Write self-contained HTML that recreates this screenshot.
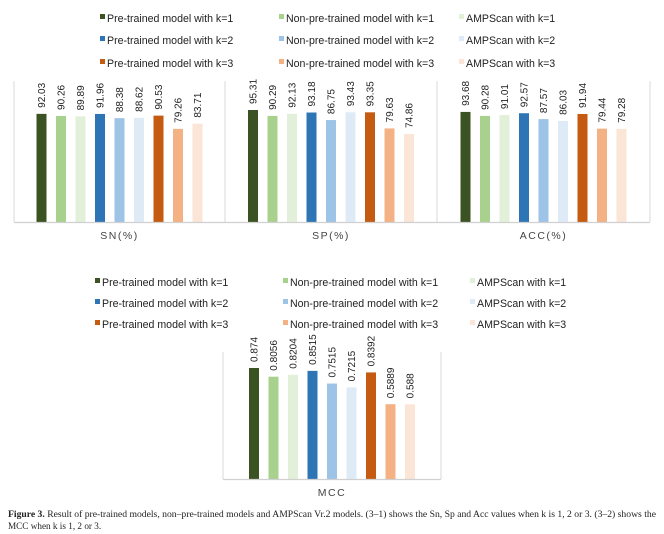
<!DOCTYPE html>
<html><head><meta charset="utf-8"><style>
html,body{margin:0;padding:0;background:#fff;}
svg{display:block;font-family:"Liberation Sans",sans-serif;}
</style></head><body>
<svg id="fig" width="664" height="534" viewBox="0 0 664 534" xmlns="http://www.w3.org/2000/svg">
<g id="legend1"></g>
<g id="chart1"></g>
<g id="legend2"></g>
<g id="chart2"></g>
<text x="8" y="517" font-family="Liberation Serif, serif" font-size="9.2" fill="#222" textLength="648" lengthAdjust="spacingAndGlyphs"><tspan font-weight="bold">Figure 3.</tspan> Result of pre-trained models, non–pre-trained models and AMPScan Vr.2 models. (3–1) shows the Sn, Sp and Acc values when k is 1, 2 or 3. (3–2) shows the</text>
<text x="8" y="529" font-family="Liberation Serif, serif" font-size="9.2" fill="#222">MCC when k is 1, 2 or 3.</text>
</svg>
<script>
const seriesNames = ["Pre-trained model with k=1","Non-pre-trained model with k=1","AMPScan with k=1","Pre-trained model with k=2","Non-pre-trained model with k=2","AMPScan with k=2","Pre-trained model with k=3","Non-pre-trained model with k=3","AMPScan with k=3"];
const colors = ["#3b5323","#a9d18e","#e2efd9","#2e75b6","#9dc3e6","#deebf7","#c55a11","#f4b183","#fbe5d6"];
const metrics = ["SN(%)","SP(%)","ACC(%)"];
const snValues = [92.03,90.26,89.89,91.96,88.38,88.62,90.53,79.26,83.71];
const spValues = [95.31,90.29,92.13,93.18,86.75,93.43,93.35,79.63,74.86];
const accValues = [93.68,90.28,91.01,92.57,87.57,86.03,91.94,79.44,79.28];
const snLabels = ["92.03","90.26","89.89","91.96","88.38","88.62","90.53","79.26","83.71"];
const spLabels = ["95.31","90.29","92.13","93.18","86.75","93.43","93.35","79.63","74.86"];
const accLabels = ["93.68","90.28","91.01","92.57","87.57","86.03","91.94","79.44","79.28"];
const mccValues = [0.874,0.8056,0.8204,0.8515,0.7515,0.7215,0.8392,0.5889,0.588];
const mccLabels = ["0.874","0.8056","0.8204","0.8515","0.7515","0.7215","0.8392","0.5889","0.588"];

const NS="http://www.w3.org/2000/svg";
function mk(tag, attrs, parent){const e=document.createElementNS(NS,tag);for(const k in attrs)e.setAttribute(k,attrs[k]);parent.appendChild(e);return e;}

function legend(g, cols, rows){
  seriesNames.forEach((n,i)=>{
    const c=i%3, r=Math.floor(i/3);
    const item=mk('g',{},g);
    
    
    mk('rect',{x:cols[c],y:rows[r]-4,width:5,height:5,fill:colors[i]},item);
    const t=mk('text',{x:cols[c]+7,y:rows[r]+4,'font-size':'10.6',fill:'#222'},item);
    t.textContent=n;
  });
}

function panel(g, x0, x1, base, top, vmax, values, labels, title, leftLine, rightLine){
  const h=base-top;
  const yScale=v=>base - v/vmax*h;
  const step=19.5, bw=10;
  const cx=(x0+x1)/2, start=cx - (step*8+bw)/2;
  const xScale=i=>start+i*step;
  values.forEach((v,i)=>{
    const b=mk('rect',{x:xScale(i),y:yScale(v),width:bw,height:base-yScale(v),fill:colors[i]},g);
    
    
    const tx=xScale(i)+bw/2+3.5, ty=yScale(v)-6;
    const t=mk('text',{x:tx,y:ty,'font-size':'10',fill:'#222',transform:`rotate(-90 ${tx} ${ty})`},g);
    
    
    t.textContent=labels[i];
  });
  const t=mk('text',{x:cx,y:base+17,'font-size':'10.5','text-anchor':'middle',fill:'#444','letter-spacing':'1.5'},g);
  
  
  t.textContent=title;
  if(leftLine) mk('line',{x1:x0,y1:top,x2:x0,y2:base,stroke:'#d9d9d9','stroke-width':1},g);
  if(rightLine) mk('line',{x1:x1,y1:top,x2:x1,y2:base,stroke:'#d9d9d9','stroke-width':1},g);
}

legend(document.getElementById('legend1'),[100,279,459],[18,40,63]);
const c1=document.getElementById('chart1');
const edges=[14,225,437,650];
const vals=[snValues,spValues,accValues], labs=[snLabels,spLabels,accLabels];
metrics.forEach((m,k)=>panel(c1,edges[k],edges[k+1],222,81,120,vals[k],labs[k],m,true,k===2));
mk('line',{x1:14,y1:222.5,x2:650,y2:222.5,stroke:'#d0d0d0','stroke-width':1.2},c1);

legend(document.getElementById('legend2'),[95,283,470],[282,303,324]);
const c2=document.getElementById('chart2');
panel(c2,223,441,479,352,1.0,mccValues,mccLabels,"MCC",true,true);
mk('line',{x1:223,y1:479.5,x2:441,y2:479.5,stroke:'#d0d0d0','stroke-width':1.2},c2);
</script>
</body></html>
